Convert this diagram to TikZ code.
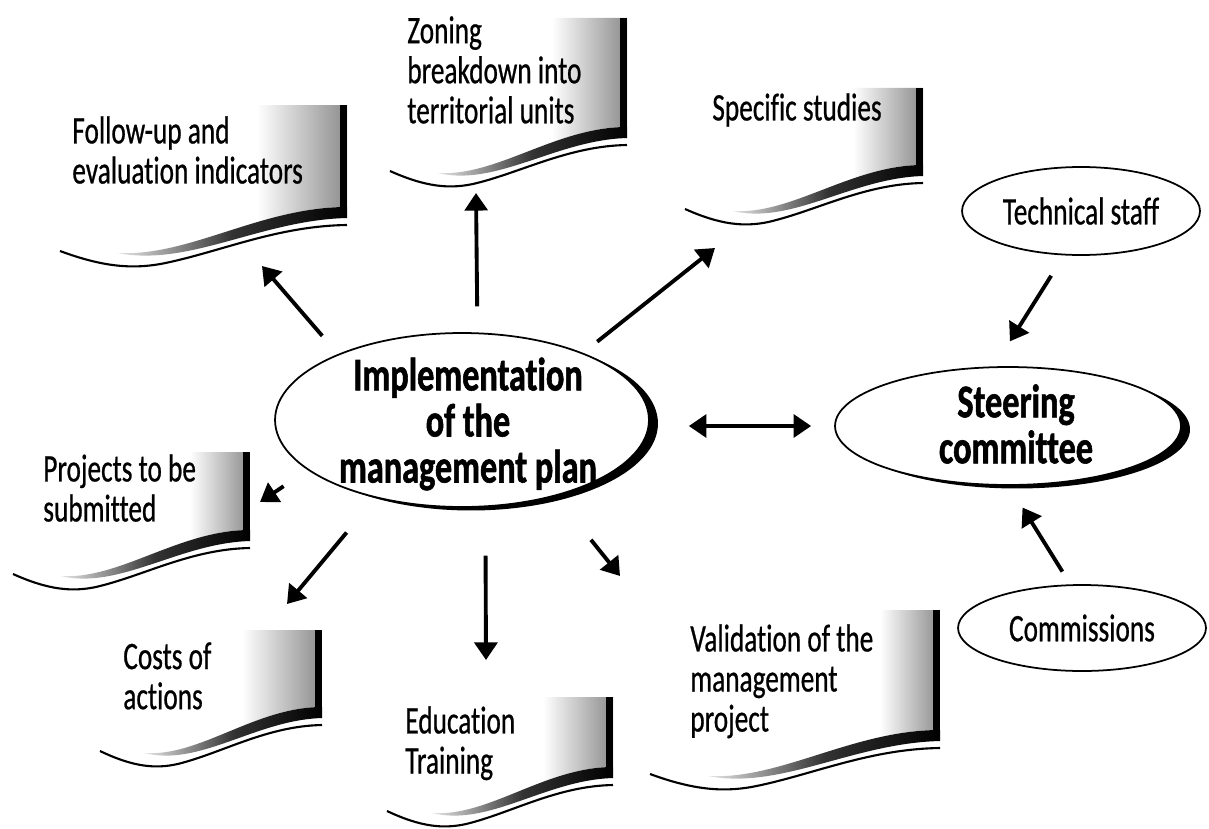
\documentclass[tikz,border=0pt]{standalone}
\usepackage{fontspec}
\setmainfont{Carlito}[FakeStretch=0.70, FakeBold=0.6, Ligatures=NoCommon, BoldFeatures={FakeStretch=0.73, FakeBold=1.2}]
\usetikzlibrary{arrows.meta,shapes.geometric,shadows}

\newcommand\docshape[5]{%
 \pgfmathsetmacro\dcL{#1}\pgfmathsetmacro\dcR{#2}\pgfmathsetmacro\dcT{#3}\pgfmathsetmacro\dcB{#4}\pgfmathsetmacro\dcG{#5}\pgfmathsetmacro\dcW{#2-#1}%
 \begin{scope}
  \clip ({\dcR-\dcG},\dcT) rectangle (\dcR,{\dcB+40});
  \clip (\dcL,\dcT) -- (\dcR,\dcT) -- (\dcR,{\dcB-10}) .. controls ({\dcL+0.7*\dcW},{\dcB-10}) and ({\dcL+0.45*\dcW},{\dcB+40}) .. ({\dcL+0.2*\dcW},{\dcB+36}) -- (\dcL,{\dcB+36}) -- cycle;
  \shade[left color=white, right color=black!45] ({\dcR-\dcG},\dcT) rectangle (\dcR,{\dcB+40});
 \end{scope}
 \fill[black] ({\dcR-7},\dcT) rectangle (\dcR,\dcB);
 \shade[left color=black!10, right color=black, middle color=black!80] ({\dcL+0.2*\dcW},{\dcB+36}) .. controls ({\dcL+0.45*\dcW},{\dcB+50}) and ({\dcL+0.7*\dcW},{\dcB+3}) .. (\dcR,{\dcB+1}) -- (\dcR,{\dcB-10}) .. controls ({\dcL+0.7*\dcW},{\dcB-10}) and ({\dcL+0.45*\dcW},{\dcB+40}) .. ({\dcL+0.2*\dcW},{\dcB+36}) -- cycle;
 \draw[line width=1.2pt] (\dcL,{\dcB+34}) .. controls ({\dcL+0.15*\dcW},{\dcB+50}) and ({\dcL+0.25*\dcW},{\dcB+52}) .. ({\dcL+0.35*\dcW},{\dcB+47}) .. controls ({\dcL+0.55*\dcW},{\dcB+36}) and ({\dcL+0.75*\dcW},{\dcB+9}) .. (\dcR,{\dcB+8});
}

\begin{document}
\begin{tikzpicture}[x=0.02cm, y=-0.02cm,
  doctext/.style={anchor=north west, inner sep=0pt, align=left, font=\fontsize{22.2}{22.8}\selectfont},
  bigtext/.style={align=center, inner sep=0pt, font=\fontsize{26.7}{26.2}\selectfont\bfseries},
  ell/.style={ellipse, draw, line width=1pt, fill=white, inner sep=0pt},
  shadowell/.style={ell, drop shadow={shadow xshift=0.18cm, shadow yshift=-0.07cm, fill=black, opacity=1}},
  smalltext/.style={font=\fontsize{22.2}{22.8}\selectfont},
  arr/.style={line width=2.2pt, -{Triangle[length=10pt,width=13pt]}},
  darr/.style={line width=2.2pt, {Triangle[length=10pt,width=13pt]}-{Triangle[length=10pt,width=13pt]}}]
\fill[white] (0,0) rectangle (1209,828);
\useasboundingbox (0,0) rectangle (1209,828);

% documents
\docshape{60}{347}{105}{217}{90}
\node[doctext] (fu) at (72,116) {Follow-up and\\evaluation indicators};
\docshape{390}{627}{18}{137}{75}
\node[doctext] (zon) at (407,16) {Zoning\\breakdown into\\territorial units};
\docshape{685}{923}{88}{175}{70}
\node[doctext] (spec) at (712,93) {Specific studies};
\docshape{13}{250}{452}{540}{60}
\node[doctext] (proj) at (43,454) {Projects to be\\submitted};
\docshape{100}{322}{630}{717}{80}
\node[doctext] (cost) at (123,642) {Costs of\\actions};
\docshape{387}{613}{697}{777}{70}
\node[doctext] (edu) at (405,706) {Education\\Training};
\docshape{650}{940}{610}{740}{60}
\node[doctext] (val) at (690,624) {Validation of the\\management\\project};

% ellipses
\node[shadowell, minimum width=7.48cm, minimum height=3.48cm] (impl) at (462,420) {};
\node[bigtext] (implt) at (468,424) {Implementation\\of the\\management plan};
\node[shadowell, minimum width=6.92cm, minimum height=2.36cm] (steer) at (1008,426) {};
\node[bigtext] (steert) at (1016,424) {Steering\\committee};
\node[ell, smalltext, minimum width=4.76cm, minimum height=1.76cm] (tech) at (1081,211) {Technical staff};
\node[ell, smalltext, minimum width=4.96cm, minimum height=1.72cm] (comm) at (1082,628) {Commissions};

% arrow tips
\coordinate (fuin) at (262,266);
\coordinate (zonin) at (476,193);
\coordinate (specin) at (715,248);
\coordinate (projin) at (260,502);
\coordinate (costin) at (287,604);
\coordinate (eduin) at (486,660);
\coordinate (valin) at (620,576);

\draw[arr, shorten <=0.48cm] (impl.152.6) -- (fuin);
\draw[arr, shorten <=0.52cm] (impl.80.8) -- (zonin);
\draw[arr, shorten <=0.36cm] (impl.29.9) -- (specin);
\draw[arr, shorten <=0.58cm] (impl.198.2) -- (projin);
\draw[arr, shorten <=0.9cm] (impl.222.5) -- (costin);
\draw[arr, shorten <=0.97cm] (impl.285.5) -- (eduin);
\draw[arr, shorten <=1.12cm] (impl.321.5) -- (valin);

\draw[darr, shorten <=0.78cm, shorten >=0.46cm] (impl.east |- steer) -- (steer.west);
\draw[arr, shorten <=0.48cm, shorten >=0.59cm] (tech.249.6) -- (steer.103.2);
\draw[arr, shorten <=0.3cm, shorten >=0.51cm] (comm.105.8) -- (steer.271.7);
\end{tikzpicture}
\end{document}
